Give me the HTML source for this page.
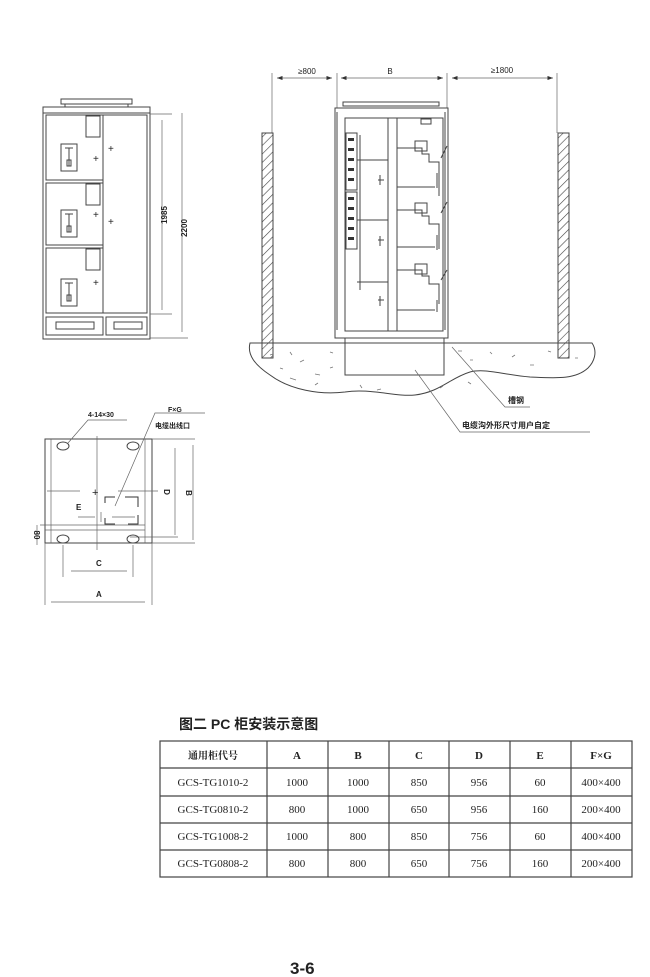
<!DOCTYPE html>
<html><head><meta charset="utf-8"><style>
html,body{margin:0;padding:0;background:#fff;width:650px;height:977px;overflow:hidden}
svg{display:block}
text{font-family:"Liberation Sans","Noto Sans CJK SC",sans-serif;fill:#222}
text.sf{font-family:"Liberation Serif","Noto Serif CJK SC",serif}
.s{fill:none;stroke:#444;stroke-width:1}
.t{fill:none;stroke:#666;stroke-width:0.7}
</style></head><body>
<svg width="650" height="977" viewBox="0 0 650 977" xmlns="http://www.w3.org/2000/svg">
<defs>
<pattern id="h" width="6" height="6" patternUnits="userSpaceOnUse" patternTransform="rotate(45)">
<line x1="0" y1="0" x2="0" y2="6" stroke="#444" stroke-width="1.2"/></pattern>
<marker id="a" markerWidth="8" markerHeight="6" refX="8" refY="3" orient="auto-start-reverse"><path d="M0,0 L8,3 L0,6" fill="#333"/></marker>
</defs>

<!-- Front view -->
<rect class="s" x="61" y="99" width="71" height="5"/>
<line class="s" x1="65" y1="104" x2="65" y2="107"/><line class="s" x1="128" y1="104" x2="128" y2="107"/>
<rect class="s" x="43" y="107" width="107" height="232"/>
<line class="s" x1="43" y1="113" x2="150" y2="113"/>
<rect class="s" x="46" y="115" width="57" height="65"/>
<rect class="s" x="46" y="183" width="57" height="62"/>
<rect class="s" x="46" y="248" width="57" height="65"/>
<rect class="s" x="103" y="115" width="44" height="198"/>
<rect class="s" x="46" y="317" width="57" height="18"/><rect class="s" x="106" y="317" width="41" height="18"/>
<rect class="s" x="56" y="322" width="38" height="7"/><rect class="s" x="114" y="322" width="28" height="7"/>
<rect class="s" x="86" y="116" width="14" height="21"/><rect class="s" x="86" y="184" width="14" height="21"/><rect class="s" x="86" y="249" width="14" height="21"/>
<rect class="s" x="61" y="144" width="16" height="27"/><rect class="s" x="61" y="210" width="16" height="27"/><rect class="s" x="61" y="279" width="16" height="27"/>
<path class="s" d="M65,148h8M69,148v18M67,160h4v6h-4z M65,214h8M69,214v18M67,226h4v6h-4z M65,283h8M69,283v18M67,295h4v6h-4z"/>
<text x="108" y="152" font-size="10">+</text><text x="93" y="162" font-size="10">+</text>
<text x="93" y="218" font-size="10">+</text><text x="108" y="225" font-size="10">+</text><text x="93" y="286" font-size="10">+</text>
<line class="t" x1="150" y1="114" x2="172" y2="114"/><line class="t" x1="150" y1="314" x2="172" y2="314"/><line class="t" x1="150" y1="338" x2="188" y2="338"/>
<line class="t" x1="162" y1="120" x2="162" y2="310"/><line class="t" x1="182" y1="113" x2="182" y2="332"/>
<text font-size="8" font-weight="bold" transform="translate(167,215) rotate(-90)" text-anchor="middle">1985</text>
<text font-size="8" font-weight="bold" transform="translate(187,228) rotate(-90)" text-anchor="middle">2200</text>

<!-- Side install view -->
<line class="t" x1="272" y1="73" x2="272" y2="133"/><line class="t" x1="337" y1="73" x2="337" y2="108"/>
<line class="t" x1="447" y1="73" x2="447" y2="108"/><line class="t" x1="557" y1="73" x2="557" y2="133"/>
<line class="t" x1="277" y1="78" x2="332" y2="78" marker-start="url(#a)" marker-end="url(#a)"/>
<line class="t" x1="341" y1="78" x2="443" y2="78" marker-start="url(#a)" marker-end="url(#a)"/>
<line class="t" x1="452" y1="78" x2="553" y2="78" marker-start="url(#a)" marker-end="url(#a)"/>
<text x="307" y="74" font-size="8" text-anchor="middle">≥800</text>
<text x="390" y="74" font-size="8" text-anchor="middle">B</text>
<text x="502" y="73" font-size="8" text-anchor="middle">≥1800</text>
<rect x="262" y="133" width="11" height="225" fill="url(#h)" stroke="#444"/>
<rect x="558" y="133" width="11" height="225" fill="url(#h)" stroke="#444"/>
<path class="s" d="M250,343 L592,343 C598,352 594,362 588,368 C575,380 555,378 530,377 C505,375 485,368 470,372 C450,378 440,392 415,395 C395,397 370,388 345,392 C320,395 290,390 270,375 C255,365 247,355 250,343Z" fill="#fff"/>
<g stroke="#777" stroke-width="0.8">
<path d="M270,355l3,-1M290,352l2,3M300,362l4,-2M315,374l5,1M290,378l6,2M330,352l3,1M315,385l3,-2M360,385l2,3M377,390l4,-1M458,351l4,0M470,360l3,0M490,352l2,2M512,357l3,-2M530,365l4,0M548,351l3,1M575,358l3,0M468,382l3,2M440,388l3,-2M280,368l3,1M330,368l3,-1"/></g>
<rect class="s" x="343" y="102" width="96" height="4"/>
<rect class="s" x="335" y="108" width="113" height="230"/>
<rect class="s" x="345" y="118" width="98" height="213"/>
<rect class="s" x="345" y="338" width="99" height="37" fill="#fff"/>
<line class="s" x1="388" y1="118" x2="388" y2="331"/><line class="s" x1="397" y1="118" x2="397" y2="331"/>
<line class="s" x1="337" y1="112" x2="337" y2="330"/><line class="s" x1="445" y1="112" x2="445" y2="330"/>
<rect class="s" x="346" y="133" width="11" height="57"/><rect class="s" x="346" y="192" width="11" height="57"/>
<g fill="#333"><rect x="348" y="138" width="6" height="3"/><rect x="348" y="148" width="6" height="3"/><rect x="348" y="158" width="6" height="3"/><rect x="348" y="168" width="6" height="3"/><rect x="348" y="178" width="6" height="3"/><rect x="348" y="197" width="6" height="3"/><rect x="348" y="207" width="6" height="3"/><rect x="348" y="217" width="6" height="3"/><rect x="348" y="227" width="6" height="3"/><rect x="348" y="237" width="6" height="3"/></g>
<line class="s" x1="360" y1="135" x2="360" y2="290"/>
<path class="s" d="M357,160h31M357,220h31M357,282h31M397,148h25v6h7v8h10v34M397,210h25v6h7v8h10v25M397,270h25v6h7v8h10v20M397,187h38M397,247h38M397,310h38M437,173v15M437,235v15M437,300v12"/>
<rect class="s" x="415" y="141" width="12" height="10"/><rect class="s" x="415" y="203" width="12" height="10"/><rect class="s" x="415" y="264" width="12" height="10"/>
<rect class="s" x="421" y="119" width="10" height="5"/>
<path class="s" d="M441,158l6,-12M441,213l6,-11M441,280l6,-10M380,175v10M378,180h6M380,236v10M378,240h6M380,296v10M378,300h6"/>
<polyline class="t" points="452,347 505,407 530,407"/>
<polyline class="t" points="415,370 460,432 590,432"/>
<text x="508" y="403" font-size="8" font-weight="bold">槽钢</text>
<text x="462" y="428" font-size="8" font-weight="bold">电缆沟外形尺寸用户自定</text>

<!-- Plan view -->
<rect class="s" x="45" y="439" width="107" height="104"/>
<line class="t" x1="51" y1="439" x2="51" y2="543"/><line class="t" x1="145" y1="439" x2="145" y2="543"/>
<line class="t" x1="45" y1="530" x2="145" y2="530"/><line class="t" x1="152" y1="439" x2="195" y2="439"/><line class="t" x1="152" y1="543" x2="195" y2="543"/>
<line class="t" x1="130" y1="537" x2="178" y2="537"/><line class="t" x1="40" y1="525" x2="145" y2="525"/>
<g class="s"><ellipse cx="63" cy="446" rx="6" ry="4"/><ellipse cx="133" cy="446" rx="6" ry="4"/><ellipse cx="63" cy="539" rx="6" ry="4"/><ellipse cx="133" cy="539" rx="6" ry="4"/></g>
<line class="t" x1="97" y1="436" x2="97" y2="550"/><line class="t" x1="47" y1="491" x2="80" y2="491"/><line class="t" x1="118" y1="491" x2="158" y2="491"/>
<text x="92" y="496" font-size="11">+</text>
<path d="M105,503v-6h10M125,497h13v10M138,515v9h-10M115,524h-10v-6" fill="none" stroke="#333"/>
<line class="t" x1="78" y1="517" x2="95" y2="517"/><line class="t" x1="112" y1="517" x2="135" y2="517"/><line class="t" x1="101" y1="512" x2="101" y2="522"/>
<line class="t" x1="175" y1="448" x2="175" y2="535"/><line class="t" x1="193" y1="445" x2="193" y2="540"/>
<line class="t" x1="63" y1="545" x2="63" y2="577"/><line class="t" x1="133" y1="545" x2="133" y2="577"/>
<line class="t" x1="71" y1="571" x2="127" y2="571"/><line class="t" x1="51" y1="602" x2="145" y2="602"/>
<line class="t" x1="45" y1="543" x2="45" y2="605"/><line class="t" x1="152" y1="543" x2="152" y2="605"/>
<line class="t" x1="37" y1="525" x2="37" y2="545"/>
<polyline class="t" points="68,443 88,420 127,420"/>
<polyline class="t" points="115,506 155,413 205,413"/>
<text x="88" y="417" font-size="7" font-weight="bold">4-14×30</text>
<text x="168" y="412" font-size="7" font-weight="bold">F×G</text>
<text x="155" y="428" font-size="7" font-weight="bold">电缆出线口</text>
<text x="76" y="510" font-size="8" font-weight="bold">E</text>
<text x="96" y="566" font-size="8" font-weight="bold">C</text>
<text x="96" y="597" font-size="8" font-weight="bold">A</text>
<text font-size="8" font-weight="bold" transform="translate(164,492) rotate(90)" text-anchor="middle">D</text>
<text font-size="8" font-weight="bold" transform="translate(186,493) rotate(90)" text-anchor="middle">B</text>
<text font-size="8" font-weight="bold" transform="translate(34,535) rotate(90)" text-anchor="middle">80</text>

<!-- Table -->
<text x="179" y="729" font-size="14" font-weight="bold">图二  PC 柜安装示意图</text>
<g stroke="#444" stroke-width="1.2" fill="none">
<rect x="160" y="741" width="472" height="136"/>
<path d="M160,768H632M160,796H632M160,823H632M160,850H632M267,741V877M328,741V877M389,741V877M449,741V877M510,741V877M571,741V877"/>
</g>
<g font-size="11" text-anchor="middle">
<text class="sf" x="213" y="759" font-weight="bold" font-size="10">通用柜代号</text><text class="sf" x="297" y="759" font-weight="bold">A</text><text class="sf" x="358" y="759" font-weight="bold">B</text><text class="sf" x="419" y="759" font-weight="bold">C</text><text class="sf" x="479" y="759" font-weight="bold">D</text><text class="sf" x="540" y="759" font-weight="bold">E</text><text class="sf" x="601" y="759" font-weight="bold">F×G</text>
<text class="sf" x="213" y="786">GCS-TG1010-2</text><text class="sf" x="297" y="786">1000</text><text class="sf" x="358" y="786">1000</text><text class="sf" x="419" y="786">850</text><text class="sf" x="479" y="786">956</text><text class="sf" x="540" y="786">60</text><text class="sf" x="601" y="786">400×400</text>
<text class="sf" x="213" y="813">GCS-TG0810-2</text><text class="sf" x="297" y="813">800</text><text class="sf" x="358" y="813">1000</text><text class="sf" x="419" y="813">650</text><text class="sf" x="479" y="813">956</text><text class="sf" x="540" y="813">160</text><text class="sf" x="601" y="813">200×400</text>
<text class="sf" x="213" y="840">GCS-TG1008-2</text><text class="sf" x="297" y="840">1000</text><text class="sf" x="358" y="840">800</text><text class="sf" x="419" y="840">850</text><text class="sf" x="479" y="840">756</text><text class="sf" x="540" y="840">60</text><text class="sf" x="601" y="840">400×400</text>
<text class="sf" x="213" y="867">GCS-TG0808-2</text><text class="sf" x="297" y="867">800</text><text class="sf" x="358" y="867">800</text><text class="sf" x="419" y="867">650</text><text class="sf" x="479" y="867">756</text><text class="sf" x="540" y="867">160</text><text class="sf" x="601" y="867">200×400</text>
</g>
<text x="290" y="974" font-size="17" font-weight="bold">3-6</text>
</svg>
</body></html>
